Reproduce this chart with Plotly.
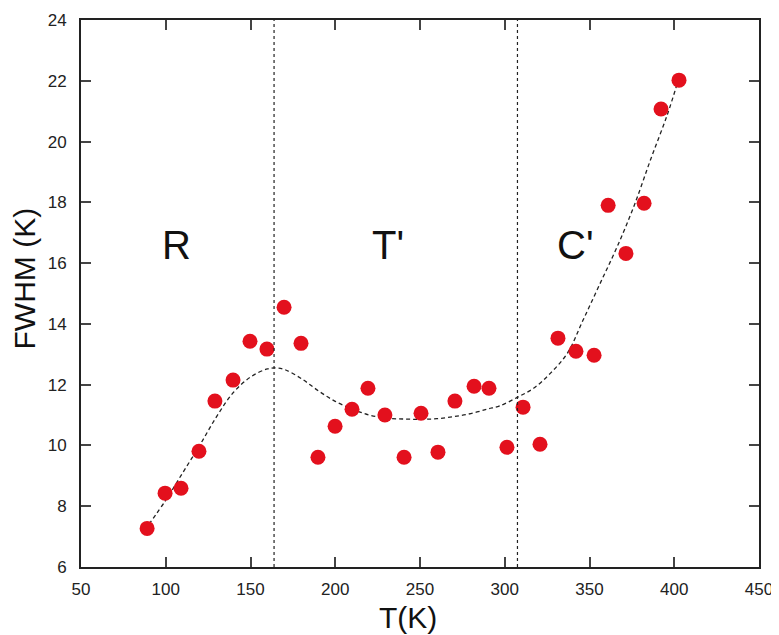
import plotly.graph_objects as go

T_data = [89, 99.6, 109, 119.6, 129, 139.7, 149.7, 159.7, 169.8, 179.8,
          189.8, 199.9, 209.9, 219.3, 229.3, 240.6, 250.6, 260.6, 270.6, 281.9,
          290.7, 301.3, 310.8, 320.8, 331.4, 342, 352.7, 361, 371.5, 382.2,
          392.2, 402.8]
FWHM_data = [7.27, 8.43, 8.59, 9.81, 11.46, 12.15, 13.43, 13.17, 14.55, 13.36,
             9.61, 10.63, 11.19, 11.88, 11.0, 9.61, 11.06, 9.78, 11.46, 11.95,
             11.88, 9.94, 11.26, 10.04, 13.53, 13.1, 12.97, 17.9, 16.32, 17.97,
             21.07, 22.02]

T_fit = [90, 100, 110, 120, 130, 140, 150, 160, 165, 170, 180, 190, 200, 210,
         220, 230, 240, 250, 260, 270, 280, 290, 297, 308, 317, 327, 337, 346,
         356, 366, 376, 386, 396, 402]
FWHM_fit = [7.4, 8.2, 9.1, 10.0, 10.95, 11.75, 12.25, 12.52, 12.55, 12.5, 12.2,
            11.8, 11.45, 11.2, 11.0, 10.9, 10.87, 10.86, 10.88, 10.95, 11.05,
            11.2, 11.3, 11.6, 11.88, 12.38, 13.04, 14.1, 15.3, 16.5, 17.84,
            19.4, 20.9, 21.95]

boundaries = [163.9, 307.5]
region_labels = ["R", "T'", "C'"]
region_x = [106.6, 231, 341.5]
region_y = [16.6, 16.6, 16.6]

x_ticks = [50, 100, 150, 200, 250, 300, 350, 400, 450]
y_ticks = [6, 8, 10, 12, 14, 16, 18, 20, 22, 24]
x_title = "T(K)"
y_title = "FWHM (K)"

FONT = "Liberation Sans, Arial"

fig = go.Figure()
fig.add_trace(go.Scatter(x=T_fit, y=FWHM_fit, mode="lines",
                         line=dict(color="#222222", width=1.3, dash="4px,3px"),
                         line_shape="spline", hoverinfo="skip"))
fig.add_trace(go.Scatter(x=T_data, y=FWHM_data, mode="markers",
                         marker=dict(color="#e3101d", size=15, line=dict(width=0))))

for b in boundaries:
    fig.add_shape(type="line", x0=b, x1=b, y0=6, y1=24, xref="x", yref="y",
                  line=dict(color="#222222", width=1.2, dash="3px,3px"))

for lab, xx, yy in zip(region_labels, region_x, region_y):
    fig.add_annotation(x=xx, y=yy, text=lab, showarrow=False,
                       font=dict(family=FONT, size=40, color="#111111"))

fig.add_annotation(x=0.482, y=-0.093, xref="paper", yref="paper", text=x_title,
                   showarrow=False, xanchor="center", yanchor="middle",
                   font=dict(family=FONT, size=30, color="#111111"))
fig.add_annotation(x=-0.083, y=0.527, xref="paper", yref="paper", text=y_title,
                   showarrow=False, xanchor="center", yanchor="middle", textangle=-90,
                   font=dict(family=FONT, size=30, color="#111111"))

axis_common = dict(showgrid=False, zeroline=False, showline=True, linecolor="#222222",
                   linewidth=2, mirror="ticks", ticks="inside", ticklen=10,
                   tickwidth=1.5, tickcolor="#444444", automargin=False,
                   tickfont=dict(family=FONT, size=17, color="#222222"))

fig.update_xaxes(range=[50, 450], tickvals=x_ticks, ticklabelstandoff=6, **axis_common)
fig.update_yaxes(range=[6, 24], tickvals=y_ticks, ticklabelstandoff=9, **axis_common)

fig.update_layout(width=771, height=627, margin=dict(l=73, r=20, t=12, b=68),
                  plot_bgcolor="white", paper_bgcolor="white", showlegend=False)

fig.write_html("out.html")
